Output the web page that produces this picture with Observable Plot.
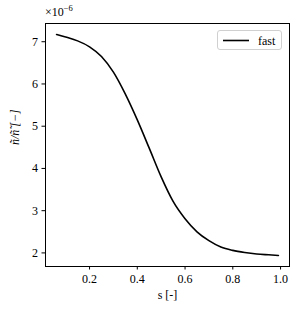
<!DOCTYPE html>
<html>
<head>
<meta charset="utf-8">
<script src="https://cdn.jsdelivr.net/npm/d3@7"></script>
<script src="https://cdn.jsdelivr.net/npm/@observablehq/plot@0.6"></script>
<style>
  html, body { margin: 0; padding: 0; background: white; }
  #wrap { position: relative; width: 299px; height: 315px; }
  #legend { position: absolute; left: 217px; top: 30px; width: 65px; height: 20px;
            border: 1px solid #d0d0d0; border-radius: 3px; background: rgba(255,255,255,0.8);
            box-sizing: border-box; }
  #legend svg { position: absolute; left: 0; top: 0; }
  #offset { position: absolute; left: 45px; top: 5px; font-family: "Liberation Serif"; font-size: 12px; line-height: 14px; color: black; }
  #offset sup { font-size: 8.5px; vertical-align: 5px; line-height: 0; }
</style>
</head>
<body>
<div id="wrap"></div>
<script>
// s [-]
const sValues = [0.062, 0.10, 0.15, 0.20, 0.25, 0.30, 0.35, 0.40, 0.45, 0.50, 0.55, 0.60, 0.65, 0.70, 0.75, 0.80, 0.85, 0.90, 0.95, 0.991];
// n~/n~~ in units of 1e-6
const nValues = [7.17, 7.11, 7.02, 6.88, 6.65, 6.28, 5.76, 5.15, 4.48, 3.80, 3.22, 2.81, 2.50, 2.29, 2.14, 2.06, 2.01, 1.975, 1.955, 1.94];
const seriesName = "fast";
const xTicks = [0.2, 0.4, 0.6, 0.8, 1.0];
const yTicks = [2, 3, 4, 5, 6, 7];
const yExponent = "\u22126";

const data = sValues.map((s, i) => ({s, n: nValues[i]}));
function padded(arr) {
  const [a, b] = d3.extent(arr);
  const m = (b - a) * 0.05;
  return [a - m, b + m];
}
const FONT = "Liberation Serif";

const chart = Plot.plot({
  width: 299,
  height: 315,
  marginLeft: 45,
  marginRight: 10,
  marginTop: 23,
  marginBottom: 49,
  style: {fontFamily: FONT, fontSize: "12px", background: "white", color: "black"},
  x: {domain: padded(sValues)},
  y: {domain: padded(nValues)},
  marks: [
    Plot.axisX({ticks: xTicks, tickFormat: d => d.toFixed(1), tickSize: 3.5, tickPadding: 4, label: null, stroke: "black", fill: "black", fontFamily: FONT}),
    Plot.axisY({ticks: yTicks, tickFormat: d => String(d), tickSize: 3.5, tickPadding: 4, label: null, stroke: "black", fill: "black", fontFamily: FONT}),
    Plot.line(data, {x: "s", y: "n", stroke: "black", strokeWidth: 1.6, curve: "monotone-x"}),
    Plot.frame({stroke: "black", strokeWidth: 1}),
    Plot.text(["s [-]"], {frameAnchor: "bottom", dy: 32, fontSize: 12, fill: "black", fontFamily: FONT}),
    Plot.text(["n\u0303/n\u0303\u0303 [\u2212]"], {frameAnchor: "left", dx: -30, rotate: -90, fontSize: 12, fontStyle: "italic", fill: "black", fontFamily: FONT})
  ]
});

const wrap = document.getElementById("wrap");
wrap.appendChild(chart);

const offset = document.createElement("div");
offset.id = "offset";
offset.innerHTML = `\u00d710<sup>${yExponent}</sup>`;
wrap.appendChild(offset);

const legend = document.createElement("div");
legend.id = "legend";
legend.innerHTML = `<svg width="65" height="20">
  <line x1="5" x2="31" y1="9.5" y2="9.5" stroke="black" stroke-width="1.6"></line>
  <text x="40" y="13.5" font-size="12" font-family="Liberation Serif" fill="black">${seriesName}</text>
</svg>`;
wrap.appendChild(legend);
</script>
</body>
</html>
